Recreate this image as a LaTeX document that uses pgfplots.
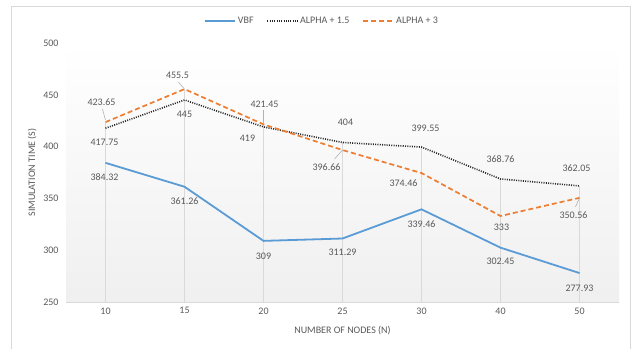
\documentclass[border=0pt]{standalone}
\usepackage{pgfplots}
\pgfplotsset{compat=1.18}
\usepackage{fontspec}
\setmainfont{Carlito}
\definecolor{txt}{HTML}{595959}
\definecolor{vbf}{HTML}{5B9BD5}
\definecolor{alt}{HTML}{ED7D31}
\definecolor{frame}{HTML}{D9D9D9}
\begin{document}
\begin{tikzpicture}
\useasboundingbox (0,0) rectangle (636pt,348pt);
\draw[frame, line width=0.8pt] (11pt,-5pt) -- (11pt,342pt) -- (630pt,342pt) -- (630pt,-5pt);
\begin{axis}[
  at={(66pt,46pt)}, anchor=south west,
  scale only axis, width=553pt, height=259pt,
  xmin=-0.5, xmax=6.5, ymin=250, ymax=500,
  xtick={0,...,6}, xticklabels={10,15,20,25,30,40,50},
  ytick={250,300,...,500},
  /pgf/number format/assume math mode=true,
  tick style={draw=none},
  axis x line*=bottom, axis y line*=left,
  x axis line style={draw=frame, line width=0.8pt, -},
  y axis line style={draw=none},
  ticklabel style={font=\fontsize{10}{12}\selectfont, text=txt},
  yticklabel style={xshift=-4pt},
  xticklabel style={yshift=-2pt},
  xlabel={NUMBER OF NODES (N)},
  ylabel={SIMULATION TIME (S)},
  label style={font=\fontsize{10}{12}\selectfont, text=txt},
  xlabel style={at={(axis description cs:0.5,-0.112)}, anchor=center},
  ylabel style={at={(axis description cs:-0.061,0.5)}, anchor=center},
  axis background/.style={shade, top color=white, bottom color=black!6},
  legend columns=3,
  legend style={draw=none, fill=none, at={(axis description cs:0.463,1.085)}, anchor=center,
    font=\fontsize{10}{12}\selectfont, text=txt,
    /tikz/every even column/.append style={column sep=11pt}},
  legend image code/.code={\draw[#1] (0pt,0pt) -- (30pt,0pt);},
]
\addplot[ycomb, black!15, line width=0.7pt, no marks, forget plot] coordinates {
  (0,423.65) (1,455.5) (2,421.45) (3,404) (4,399.55) (5,368.76) (6,362.05)};
\addplot[vbf, line width=1.8pt, no marks] coordinates {
  (0,384.32) (1,361.26) (2,309) (3,311.29) (4,339.46) (5,302.45) (6,277.93)};
\addlegendentry{VBF}
\addplot[black!85, line width=1.6pt, dash pattern=on 1pt off 1.3pt, no marks] coordinates {
  (0,417.75) (1,445) (2,419) (3,404) (4,399.55) (5,368.76) (6,362.05)};
\addlegendentry{ALPHA + 1.5}
\addplot[alt, line width=1.7pt, dash pattern=on 5pt off 3pt, no marks] coordinates {
  (0,423.65) (1,455.5) (2,421.45) (3,396.66) (4,374.46) (5,333) (6,350.56)};
\addlegendentry{ALPHA + 3}
% leader lines
\draw[black!30, line width=0.6pt] ([xshift=-3pt,yshift=13pt]axis cs:0,423.65) -- ([yshift=2pt]axis cs:0,423.65);
\draw[black!30, line width=0.6pt] ([xshift=-6pt,yshift=7pt]axis cs:1,455.5) -- ([yshift=0pt]axis cs:1,455.5);
\draw[black!30, line width=0.6pt] ([xshift=0pt,yshift=14pt]axis cs:2,421.45) -- (axis cs:2,421.45);
\draw[black!30, line width=0.6pt] ([xshift=-8pt,yshift=-9pt]axis cs:3,396.66) -- (axis cs:3,396.66);
\draw[black!30, line width=0.6pt] ([xshift=-4pt,yshift=-9pt]axis cs:6,350.56) -- (axis cs:6,350.56);
% data labels
\begin{scope}[every node/.style={font=\fontsize{10}{12}\selectfont, text=txt, inner sep=1pt}]
\node at ([xshift=-1pt,yshift=-14pt]axis cs:0,384.32) {384.32};
\node at ([yshift=-14pt]axis cs:1,361.26) {361.26};
\node at ([yshift=-15pt]axis cs:2,309) {309};
\node at ([yshift=-14pt]axis cs:3,311.29) {311.29};
\node at ([yshift=-15pt]axis cs:4,339.46) {339.46};
\node at ([yshift=-14pt]axis cs:5,302.45) {302.45};
\node at ([yshift=-15pt]axis cs:6,277.93) {277.93};
\node at ([xshift=-1pt,yshift=-14pt]axis cs:0,417.75) {417.75};
\node at ([yshift=-14pt]axis cs:1,445) {445};
\node at ([xshift=-16pt,yshift=-11pt]axis cs:2,419) {419};
\node at ([xshift=3pt,yshift=20pt]axis cs:3,404) {404};
\node at ([xshift=4pt,yshift=19pt]axis cs:4,399.55) {399.55};
\node at ([yshift=20pt]axis cs:5,368.76) {368.76};
\node at ([xshift=-3pt,yshift=18pt]axis cs:6,362.05) {362.05};
\node at ([xshift=-4pt,yshift=20pt]axis cs:0,423.65) {423.65};
\node at ([xshift=-7pt,yshift=14pt]axis cs:1,455.5) {455.5};
\node at ([xshift=1pt,yshift=20pt]axis cs:2,421.45) {421.45};
\node at ([xshift=-16pt,yshift=-17pt]axis cs:3,396.66) {396.66};
\node at ([xshift=-18pt,yshift=-10pt]axis cs:4,374.46) {374.46};
\node at ([xshift=1pt,yshift=-11pt]axis cs:5,333) {333};
\node at ([xshift=-6pt,yshift=-17pt]axis cs:6,350.56) {350.56};
\end{scope}
\end{axis}
\end{tikzpicture}
\end{document}
